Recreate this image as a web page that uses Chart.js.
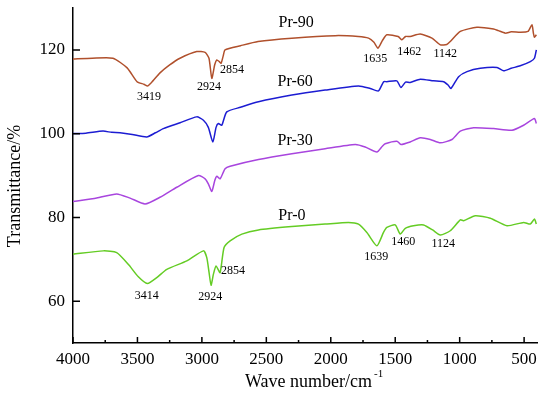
<!DOCTYPE html>
<html>
<head>
<meta charset="utf-8">
<script src="https://cdn.jsdelivr.net/npm/chart.js@4"></script>
<style>
  html, body { margin: 0; padding: 0; background: #fff; }
  #wrap { width: 550px; height: 399px; }
</style>
</head>
<body>
<div id="wrap"><canvas id="ftir" width="550" height="399"></canvas></div>
<script>
// FTIR spectra, values
const pr90Wave = [4000, 3850, 3690, 3580, 3503, 3450, 3420, 3380, 3325, 3250, 3170, 3040, 2975, 2945, 2923, 2900, 2884, 2865, 2851, 2835, 2820, 2700, 2564, 2302, 1966, 1787, 1707, 1665, 1634, 1600, 1565, 1477, 1448, 1420, 1384, 1306, 1215, 1150, 1100, 1073, 995, 866, 737, 700, 646, 600, 530, 470, 439, 428, 420, 405];
const pr90T = [117.8, 118.0, 118.0, 115.7, 112.4, 111.8, 111.4, 112.6, 114.5, 116.4, 118.0, 119.6, 119.4, 118.0, 113.2, 116.5, 117.6, 117.2, 116.8, 118.5, 120.0, 121.0, 122.0, 122.8, 123.4, 123.2, 122.8, 121.8, 120.4, 122.2, 123.6, 123.2, 122.4, 123.2, 123.2, 123.8, 122.8, 121.2, 121.3, 122.0, 124.4, 125.4, 125.0, 124.6, 124.0, 124.3, 124.2, 124.4, 126.0, 124.0, 123.0, 123.6];

const pr60Wave = [4000, 3900, 3767, 3700, 3635, 3540, 3428, 3360, 3299, 3169, 3040, 2988, 2950, 2915, 2890, 2872, 2846, 2807, 2700, 2561, 2302, 2044, 1785, 1694, 1630, 1590, 1565, 1487, 1456, 1420, 1384, 1306, 1203, 1125, 1090, 1067, 1008, 943, 840, 710, 659, 600, 530, 452, 420, 405];
const pr60T = [100.0, 100.1, 100.6, 100.3, 100.2, 99.8, 99.2, 100.2, 101.2, 102.6, 104.0, 103.2, 101.5, 98.0, 101.5, 102.4, 102.0, 105.2, 106.3, 107.6, 109.2, 110.4, 111.4, 110.8, 110.2, 112.4, 112.4, 112.6, 111.0, 112.3, 112.2, 113.0, 112.6, 112.4, 111.6, 110.8, 113.6, 114.8, 115.6, 115.8, 115.0, 115.6, 116.2, 117.2, 118.0, 120.0];

const pr30Wave = [4000, 3816, 3661, 3557, 3441, 3325, 3195, 3027, 2975, 2950, 2923, 2900, 2884, 2859, 2820, 2781, 2561, 2302, 2044, 1810, 1733, 1642, 1600, 1578, 1487, 1456, 1384, 1306, 1228, 1150, 1060, 995, 892, 737, 594, 504, 420, 405];
const pr30T = [83.8, 84.6, 85.6, 84.6, 83.2, 84.8, 87.2, 90.0, 89.2, 88.0, 86.2, 88.8, 89.8, 89.2, 91.6, 92.2, 93.8, 95.2, 96.4, 97.4, 96.8, 95.6, 97.0, 97.6, 98.2, 97.4, 98.0, 99.0, 98.6, 97.8, 98.6, 100.6, 101.4, 101.2, 100.8, 102.0, 103.6, 102.4];

const pr0Wave = [4000, 3765, 3661, 3571, 3493, 3423, 3350, 3272, 3117, 2988, 2962, 2945, 2929, 2910, 2890, 2859, 2828, 2781, 2690, 2561, 2302, 2044, 1863, 1785, 1720, 1642, 1591, 1565, 1500, 1461, 1422, 1358, 1280, 1210, 1150, 1073, 995, 970, 879, 762, 633, 504, 452, 420, 405];
const pr0T = [71.2, 72.0, 71.6, 68.8, 65.8, 64.2, 65.6, 67.6, 69.6, 72.0, 70.4, 67.0, 63.8, 66.5, 68.4, 66.8, 72.8, 74.4, 76.0, 77.0, 77.8, 78.4, 78.8, 78.4, 76.4, 73.2, 76.4, 77.6, 78.2, 76.0, 77.4, 78.0, 78.2, 77.0, 75.8, 76.8, 79.4, 79.2, 80.4, 79.8, 78.0, 78.8, 78.4, 79.6, 78.4];

const xTicks = [4000, 3500, 3000, 2500, 2000, 1500, 1000, 500];
const xMinorTicks = [3750, 3250, 2750, 2250, 1750, 1250, 750];
const yTicks = [60, 80, 100, 120];

// text labels: [text, wavenumber, transmittance]
const seriesLabels = [
  ['Pr-90', 2268, 126.5],
  ['Pr-60', 2276, 112.3],
  ['Pr-30', 2276, 98.4],
  ['Pr-0', 2302, 80.4],
];
const peakLabels = [
  ['3419', 3410, 108.7], ['2924', 2944, 111.1], ['2854', 2766, 115.2],
  ['1635', 1655, 117.8], ['1462', 1391, 119.5], ['1142', 1112, 119.0],
  ['3414', 3428, 61.2], ['2924', 2936, 61.0], ['2854', 2758, 67.2],
  ['1639', 1647, 70.6], ['1460', 1438, 74.2], ['1124', 1127, 73.7],
];

const serif = "'Liberation Serif', 'DejaVu Serif', serif";

function pts(xs, ys) {
  return xs.map((x, i) => ({ x, y: ys[i] }));
}

function lineSet(label, xs, ys, color) {
  return {
    label,
    data: pts(xs, ys),
    borderColor: color,
    backgroundColor: color,
    borderWidth: 1.5,
    pointRadius: 0,
    tension: 0.2,
    fill: false,
  };
}

const decorations = {
  id: 'decorations',
  afterDraw(chart) {
    const { ctx, chartArea, scales: { x, y } } = chart;
    ctx.save();
    // inward tick marks
    ctx.strokeStyle = '#000';
    ctx.lineWidth = 1.5;
    ctx.beginPath();
    xTicks.forEach((v) => {
      const px = x.getPixelForValue(v);
      ctx.moveTo(px, chartArea.bottom);
      ctx.lineTo(px, chartArea.bottom - 6);
    });
    xMinorTicks.forEach((v) => {
      const px = x.getPixelForValue(v);
      ctx.moveTo(px, chartArea.bottom);
      ctx.lineTo(px, chartArea.bottom - 3);
    });
    yTicks.forEach((v) => {
      const py = y.getPixelForValue(v);
      ctx.moveTo(chartArea.left, py);
      ctx.lineTo(chartArea.left + 7, py);
    });
    ctx.stroke();

    // curve names and peak positions
    ctx.fillStyle = '#000';
    ctx.textAlign = 'center';
    ctx.textBaseline = 'middle';
    ctx.font = `16px ${serif}`;
    seriesLabels.forEach(([t, wx, wy]) => ctx.fillText(t, x.getPixelForValue(wx), y.getPixelForValue(wy)));
    ctx.font = `12px ${serif}`;
    peakLabels.forEach(([t, wx, wy]) => ctx.fillText(t, x.getPixelForValue(wx), y.getPixelForValue(wy)));

    // axis titles
    ctx.font = `18px ${serif}`;
    const main = 'Wave number/cm';
    const w = ctx.measureText(main).width;
    ctx.textAlign = 'left';
    ctx.fillText(main, 245, 382);
    ctx.font = `11px ${serif}`;
    ctx.fillText('-1', 245 + w + 2, 374);

    ctx.translate(15, 186);
    ctx.rotate(-Math.PI / 2);
    ctx.textAlign = 'center';
    ctx.font = `18px ${serif}`;
    ctx.fillText('Transmittance/%', 0, 0);
    ctx.restore();
  },
};

new Chart(document.getElementById('ftir'), {
  type: 'line',
  data: {
    datasets: [
      lineSet('Pr-90', pr90Wave, pr90T, '#b0502c'),
      lineSet('Pr-60', pr60Wave, pr60T, '#1c1cd2'),
      lineSet('Pr-30', pr30Wave, pr30T, '#a845de'),
      lineSet('Pr-0', pr0Wave, pr0T, '#64cc24'),
    ],
  },
  options: {
    responsive: false,
    animation: false,
    layout: { padding: { top: 8, right: 13, left: 0, bottom: 0 } },
    plugins: { legend: { display: false }, tooltip: { enabled: false } },
    scales: {
      x: {
        type: 'linear',
        reverse: true,
        min: 400,
        max: 4000,
        afterBuildTicks: (s) => { s.ticks = xTicks.map((value) => ({ value })); },
        afterFit: (s) => { s.height = 56; s.paddingLeft = 0; s.paddingRight = 0; },
        grid: { display: false, drawTicks: false },
        border: { display: true, color: '#000', width: 1.5 },
        ticks: { color: '#000', font: { family: serif, size: 17 }, padding: 6, maxRotation: 0, callback: (v) => String(v) },
      },
      y: {
        min: 50,
        max: 130,
        afterBuildTicks: (s) => { s.ticks = yTicks.map((value) => ({ value })); },
        afterFit: (s) => { s.width = 73; s.paddingTop = 0; s.paddingBottom = 0; },
        grid: { display: false, drawTicks: false },
        border: { display: true, color: '#000', width: 1.5 },
        ticks: { color: '#000', font: { family: serif, size: 17 }, padding: 8, callback: (v) => String(v) },
      },
    },
  },
  plugins: [decorations],
});
</script>
</body>
</html>
